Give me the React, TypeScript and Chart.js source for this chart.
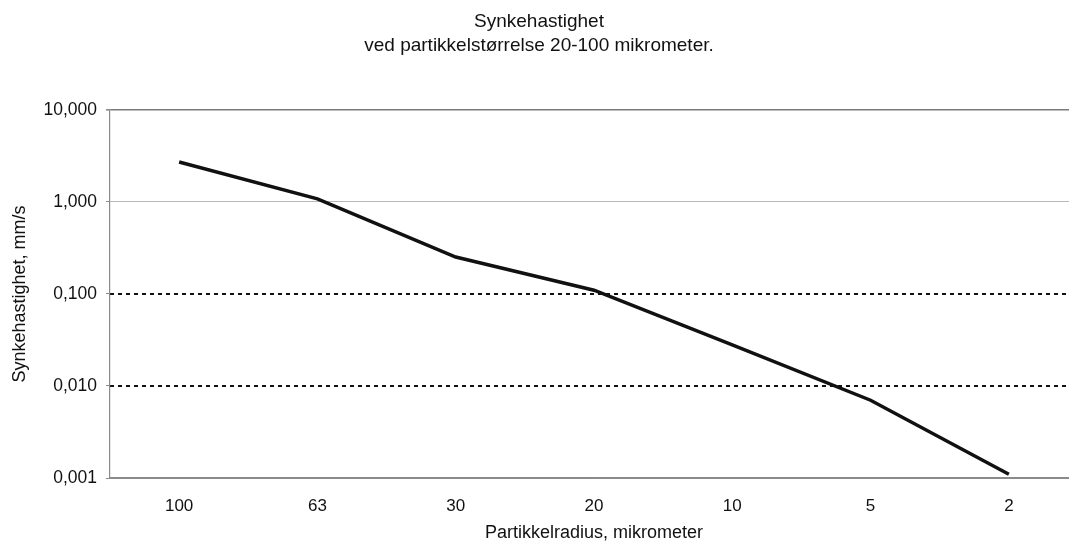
import React, { useEffect, useRef } from "react";
import { Chart, registerables } from "chart.js";

Chart.register(...registerables);

const titleLines = ["Synkehastighet", "ved partikkelstørrelse 20-100 mikrometer."];
const categories = ["100", "63", "30", "20", "10", "5", "2"];
const velocities = [2.72, 1.08, 0.252, 0.11, 0.028, 0.007, 0.0011];
const yTickValues = [0.001, 0.01, 0.1, 1, 10];
const dashedValues = [0.1, 0.01];
const xTitle = "Partikkelradius, mikrometer";
const yTitle = "Synkehastighet, mm/s";

const FONT = "'Liberation Sans', Arial, sans-serif";

export default function App() {
  const ref = useRef<HTMLCanvasElement | null>(null);

  useEffect(() => {
    if (!ref.current) return;
    const setTicks = (scale: any) => {
      scale.ticks = yTickValues.map((v) => ({ value: v }));
    };
    const chart = new Chart(ref.current, {
      type: "line",
      data: {
        labels: categories,
        datasets: [
          {
            data: velocities,
            borderColor: "#111",
            borderWidth: 3.5,
            pointRadius: 0,
            tension: 0,
            fill: false,
            yAxisID: "y",
          },
        ],
      },
      options: {
        animation: false,
        responsive: false,
        devicePixelRatio: 1,
        layout: { padding: { left: 0, right: 0, top: 0, bottom: 0 } },
        plugins: {
          legend: { display: false },
          tooltip: { enabled: false },
          title: {
            display: true,
            text: titleLines,
            color: "#111",
            font: { family: FONT, size: 19, weight: "normal", lineHeight: 1.263 },
            padding: { top: 10, bottom: 52 },
          },
        },
        scales: {
          x: {
            type: "category",
            offset: true,
            grid: { display: false, drawTicks: false },
            border: { display: true, color: "#8a8a8a", width: 1.2 },
            ticks: {
              color: "#111",
              padding: 18,
              font: { family: FONT, size: 17 },
              maxRotation: 0,
            },
            title: {
              display: true,
              text: xTitle,
              color: "#111",
              font: { family: FONT, size: 18 },
              padding: { top: 0, bottom: 0 },
            },
            afterFit: (scale: any) => {
              scale.height = 66;
            },
          },
          y: {
            type: "logarithmic",
            position: "left",
            min: 0.001,
            max: 10,
            afterBuildTicks: setTicks,
            afterFit: (scale: any) => {
              scale.width = 110;
            },
            border: { display: true, color: "#8a8a8a", width: 1.2 },
            grid: {
              drawTicks: true,
              tickLength: 4,
              tickColor: "#8a8a8a",
              color: (ctx: any) => {
                const v = ctx.tick && ctx.tick.value;
                if (v === 10) return "#7a7a7a";
                if (v === 1) return "#b8b8b8";
                if (v === 0.001) return "#8a8a8a";
                return "rgba(0,0,0,0)";
              },
              lineWidth: (ctx: any) => {
                const v = ctx.tick && ctx.tick.value;
                if (v === 10) return 1.6;
                return 1;
              },
            },
            ticks: {
              color: "#111",
              padding: 9,
              font: { family: FONT, size: 17.5 },
              callback: (value: any) => Number(value).toFixed(3).replace(".", ","),
            },
            title: {
              display: true,
              text: yTitle,
              color: "#111",
              font: { family: FONT, size: 18 },
              padding: { top: 9, bottom: 0 },
            },
          },
          y2: {
            type: "logarithmic",
            position: "left",
            min: 0.001,
            max: 10,
            afterBuildTicks: setTicks,
            afterFit: (scale: any) => {
              scale.width = 0;
            },
            border: { display: false, dash: [4, 4] },
            grid: {
              drawTicks: false,
              color: (ctx: any) => {
                const v = ctx.tick && ctx.tick.value;
                return dashedValues.includes(v) ? "#111" : "rgba(0,0,0,0)";
              },
              lineWidth: 2,
            },
            ticks: { display: false },
          },
        },
      } as any,
    });
    return () => chart.destroy();
  }, []);

  return (
    <div
      style={{
        position: "fixed",
        left: 0,
        top: 0,
        width: 1069,
        height: 544,
        overflow: "hidden",
        background: "#fff",
      }}
    >
      <canvas ref={ref} width={1078} height={544} style={{ display: "block" }} />
    </div>
  );
}
